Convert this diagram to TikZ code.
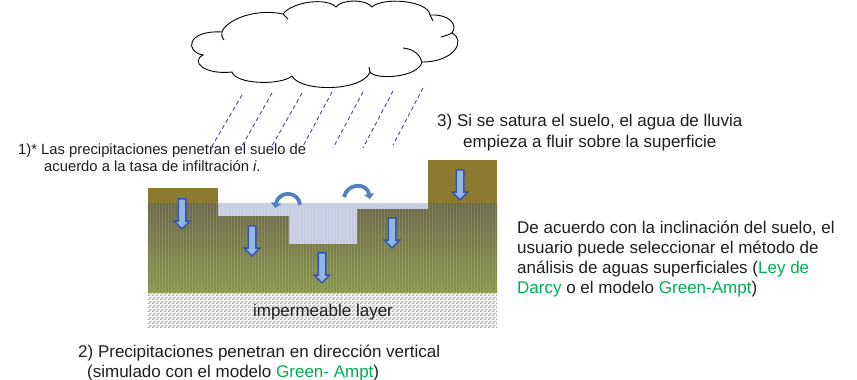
\documentclass[tikz,border=0pt]{standalone}
\usepackage{fontspec}
\setmainfont{Liberation Sans}
\usetikzlibrary{shapes.arrows,patterns,arrows.meta}

\definecolor{ink}{HTML}{1E1E1E}
\definecolor{modelgreen}{HTML}{00B050}
\definecolor{olivetop}{HTML}{8C7B2F}
\definecolor{soiltop}{HTML}{6C6A4A}
\definecolor{soilmid}{HTML}{717049}
\definecolor{soilbot}{HTML}{8A964B}
\definecolor{water}{HTML}{C7CCE2}
\definecolor{arrowline}{HTML}{3454B0}
\definecolor{arrowfill}{HTML}{92B6E6}
\definecolor{swirl}{HTML}{4F81C0}
\definecolor{rain}{HTML}{3A4BA8}

% small offset checker used for the impermeable layer
\pgfdeclarepatternformonly{checkdots}{\pgfpointorigin}{\pgfpoint{4pt}{4pt}}{\pgfpoint{4pt}{4pt}}{
  \pgfpathrectangle{\pgfpoint{0pt}{0pt}}{\pgfpoint{2pt}{1.6pt}}
  \pgfpathrectangle{\pgfpoint{2pt}{2pt}}{\pgfpoint{2pt}{1.6pt}}
  \pgfusepath{fill}
}

\tikzset{
  label17/.style={anchor=base west, inner sep=0pt, text=ink, font=\fontsize{17}{20}\selectfont},
  label15/.style={anchor=base west, inner sep=0pt, text=ink, font=\fontsize{14.8}{17}\selectfont},
  downarrow/.style={shape=single arrow, draw=arrowline, fill=arrowfill, line width=1.5pt,
    rotate=-90, minimum height=30pt, inner sep=3pt,
    single arrow head extend=4pt, single arrow tip angle=90},
  swirlarrow/.style={draw=swirl, line width=3.8pt, -{Triangle[length=5pt,width=10pt]}},
  raindrop/.style={draw=rain, line width=0.9pt, dash pattern=on 4pt off 3pt},
  cloudline/.style={draw=black, line width=0.9pt},
  gridline/.style={draw=white, line width=0.35pt, opacity=0.13}
}

\begin{document}
\begin{tikzpicture}[x=1pt,y=-1pt]
\useasboundingbox (0,0) rectangle (857,380);

% raised ground blocks above the water level
\fill[olivetop] (148,188) rectangle (218,203);
\fill[olivetop] (428,160) rectangle (497,203);

% ponded surface water
\fill[water] (218,203) -- (428,203) -- (428,209) -- (357,209) -- (357,244)
  -- (289,244) -- (289,216) -- (218,216) -- cycle;

% soil body
\shade[top color=soiltop, middle color=soilmid, bottom color=soilbot]
  (148,203) -- (218,203) -- (218,216) -- (289,216) -- (289,244) -- (357,244)
  -- (357,209) -- (428,209) -- (428,203) -- (497,203) -- (497,293) -- (148,293) -- cycle;

% fine texture over soil and water
\begin{scope}
  \clip (148,203) rectangle (497,293);
  \draw[gridline] (148,203) grid[step=3] (497,293);
\end{scope}

% impermeable layer
\fill[gray!8] (148,293) rectangle (497,328);
\fill[pattern=checkdots, pattern color=gray!65] (148,293) rectangle (497,328);
\node[anchor=base, inner sep=0pt, text=ink, font=\fontsize{17}{20}\selectfont] (imp) at (323,316) {impermeable layer};

% infiltration arrows
\node[downarrow] (a1) at (182,212) {};
\node[downarrow] (a2) at (252,239) {};
\node[downarrow] (a3) at (322,266) {};
\node[downarrow] (a4) at (392,231) {};
\node[downarrow] (a5) at (460,183) {};

% surface runoff swirls
\coordinate (s1a) at (300,205);
\coordinate (s1b) at (275,208);
\coordinate (s2a) at (344,197);
\coordinate (s2b) at (370,199);
\draw[swirlarrow] (s1a) .. controls (299,191) and (279,190) .. (s1b);
\draw[swirlarrow] (s2a) .. controls (347,183) and (367,182) .. (s2b);

% rain
\foreach \tx/\ty/\bx/\by in {242/95/212/146, 272/93/242/146, 302/93/272/146,
  332/92/302/148, 363/92/333/148, 393/91/363/148, 423/88/393/145}{
  \draw[raindrop] (\tx,\ty) -- (\bx,\by);
}

% cloud
\coordinate (cA) at (203,55);
\coordinate (cB) at (222,32);
\coordinate (cC) at (283,14);
\coordinate (cD) at (336,7);
\coordinate (cE) at (372,7);
\coordinate (cF) at (430,15);
\coordinate (cG) at (452,33);
\coordinate (cH) at (422,62);
\coordinate (cI) at (370,72);
\coordinate (cJ) at (292,76);
\coordinate (cK) at (232,72);
\filldraw[cloudline, fill=white]
  (cA) .. controls (185,52) and (186,30) .. (cB)
  .. controls (226,20) and (255,8) .. (cC)
  .. controls (292,2) and (326,-3) .. (cD)
  .. controls (342,-1) and (366,-1) .. (cE)
  .. controls (382,-3) and (428,0) .. (cF)
  .. controls (450,14) and (458,25) .. (cG)
  .. controls (466,40) and (455,62) .. (cH)
  .. controls (418,78) and (375,80) .. (cI)
  .. controls (362,92) and (300,92) .. (cJ)
  .. controls (280,86) and (235,84) .. (cK)
  .. controls (205,75) and (190,62) .. (cA) -- cycle;
\draw[cloudline] (cB) .. controls (221,35) and (222,38) .. (224,40);
\draw[cloudline] (cC) .. controls (286,16) .. (288,19);
\draw[cloudline] (cF) .. controls (432,18) .. (433,21);
\draw[cloudline] (cG) .. controls (448,35) .. (441,37);
\draw[cloudline] (403,48) .. controls (414,49) and (420,55) .. (cH);
\draw[cloudline] (cI) .. controls (370,70) .. (369,67);

% captions
\node[label15] (t1a) at (18,154.5) {1)* Las precipitaciones penetran el suelo de};
\node[label15] (t1b) at (44,171.5) {acuerdo a la tasa de infiltración \textit{i}.};

\node[label17] (t3a) at (437,126) {3) Si se satura el suelo, el agua de lluvia};
\node[label17] (t3b) at (463,147) {empieza a fluir sobre la superficie};

\node[label17] (r1) at (517,233) {De acuerdo con la inclinación del suelo, el};
\node[label17] (r2) at (517,253) {usuario puede seleccionar el método de};
\node[label17] (r3) at (517,273) {análisis de aguas superficiales (\textcolor{modelgreen}{Ley de}};
\node[label17] (r4) at (517,293) {\textcolor{modelgreen}{Darcy} o el modelo \textcolor{modelgreen}{Green-Ampt})};

\node[label17] (t2a) at (78,357) {2) Precipitaciones penetran en dirección vertical};
\node[label17] (t2b) at (87,377) {(simulado con el modelo \textcolor{modelgreen}{Green- Ampt})};
\end{tikzpicture}
\end{document}
